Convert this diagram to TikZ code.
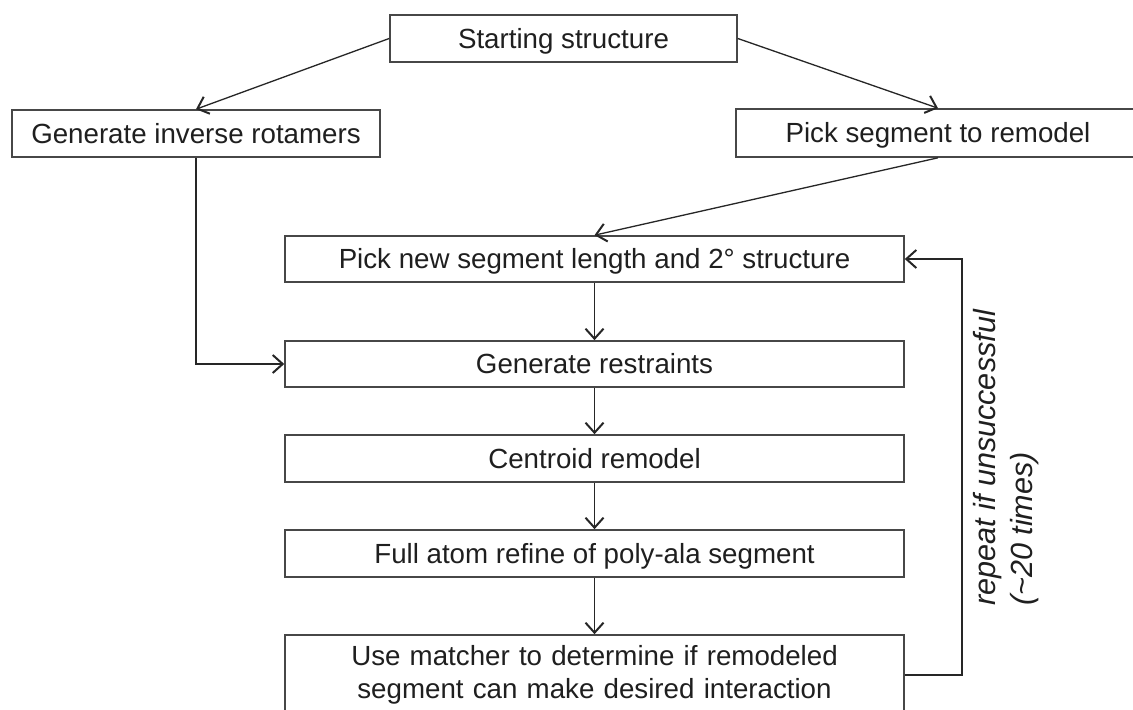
\documentclass[tikz,border=0pt]{standalone}
\usepackage{fontspec}
\setmainfont{Liberation Sans}
\usetikzlibrary{arrows.meta}
\begin{document}
\begin{tikzpicture}[x=0.5pt,y=-0.5pt,
  box/.style={draw=black!72, line width=0.8pt, fill=white, inner sep=0pt,
    font=\fontsize{13.85}{16.6}\selectfont, text=black!88},
  onel/.style={text height=9.9pt, text depth=0pt},
  conn/.style={draw=black!85, line width=0.65pt,
    -{Straight Barb[length=5pt,width=9pt,line width=1pt]}},
  lbl/.style={font=\fontsize{15.3}{18.5}\selectfont\itshape, text=black!88,
    inner sep=0pt}]
\useasboundingbox (0,0) rectangle (1133,710);
\clip (0,0) rectangle (1133,710);
\fill[white] (0,0) rectangle (1133,710);

\node[box, onel, minimum width=173.5pt, minimum height=23.5pt] (start) at (563.5,38.5) {Starting structure};
\node[box, onel, minimum width=184pt, minimum height=23.5pt] (gen) at (196,133.5) {Generate inverse rotamers};
\node[box, onel, minimum width=202pt, minimum height=24pt] (pick) at (938,133) {Pick segment to remodel};
\node[box, onel, minimum width=309.5pt, minimum height=23pt] (new) at (594.5,259) {Pick new segment length and 2° structure};
\node[box, onel, minimum width=309.5pt, minimum height=23pt] (restr) at (594.5,364) {Generate restraints};
\node[box, onel, minimum width=309.5pt, minimum height=23.5pt] (cen) at (594.5,458.5) {Centroid remodel};
\node[box, onel, minimum width=309.5pt, minimum height=23.5pt] (full) at (594.5,553.5) {Full atom refine of poly-ala segment};
\node[box, minimum width=309.5pt, minimum height=40pt, text width=300pt, align=center] (use) at (594.5,675) {Use matcher to determine if remodeled\\segment can make desired interaction};

\coordinate (loopx) at (962,0);

\draw[conn] (start.west) -- (gen.north);
\draw[conn] (start.east) -- (pick.north);
\draw[conn] (pick.south) -- (new.north);
\draw[conn] (gen.south) |- (restr.west);
\draw[conn] (new.south) -- (restr.north);
\draw[conn] (restr.south) -- (cen.north);
\draw[conn] (cen.south) -- (full.north);
\draw[conn] (full.south) -- (use.north);
\draw[conn] (use.east) -| (loopx |- new.east) -- (new.east);

\node[lbl, rotate=90, align=left] (rep) at (1006,458) {repeat if unsuccessful\\(\textasciitilde 20 times)};
\end{tikzpicture}
\end{document}
